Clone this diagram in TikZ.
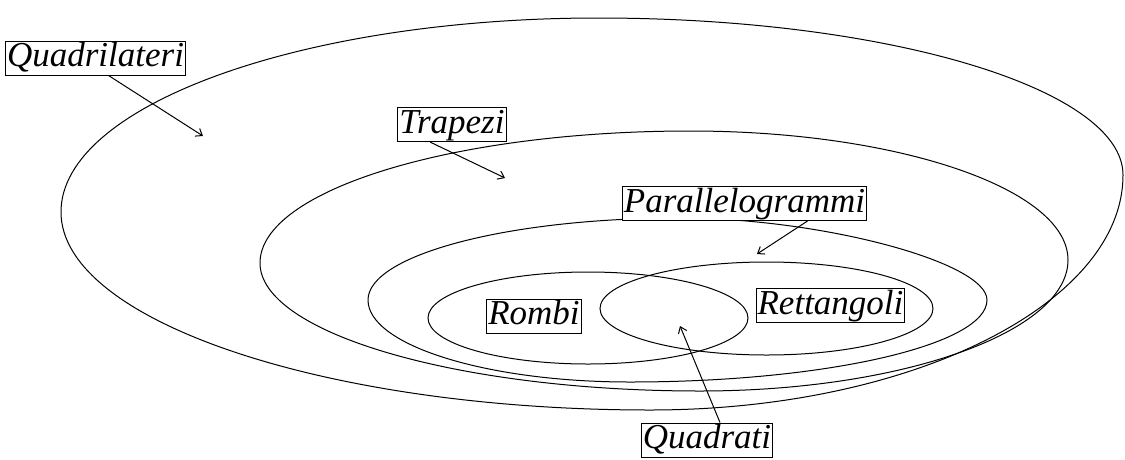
\documentclass[tikz,border=0pt]{standalone}
\usepackage{fontspec}
\setmainfont{Liberation Serif}
\usetikzlibrary{arrows.meta}
\tikzset{
  set line/.style={
    draw=black,
    line width=1pt
  },
  set label/.style={
    draw=black,
    fill=white,
    line width=1pt,
    inner sep=1.5pt,
    text height=24pt,
    text depth=7pt,
    font=\fontsize{35}{38}\selectfont\itshape
  },
  arrow/.style={
    -{Straight Barb[length=6pt,width=9pt]},
    line width=1pt
  }
}

\begin{document}
\begin{tikzpicture}[x=1pt, y=-1pt]
  \useasboundingbox (0,0) rectangle (1125,459);

  % Nested sets
  \draw[set line] (61,212) .. controls (61,105) and (303,18) .. (598,18)
    .. controls (888,18) and (1123,89) .. (1123,175)
    .. controls (1123,304) and (911,410) .. (650,410)
    .. controls (326,410) and (61,321) .. cycle;
  \draw[set line] (260,263) .. controls (260,190) and (454,131) .. (690,131)
    .. controls (898,131) and (1068,189) .. (1068,260)
    .. controls (1068,332) and (902,391) .. (700,391)
    .. controls (458,391) and (260,333) .. cycle;
  \draw[set line] (368,300) .. controls (368,255) and (508,218) .. (680,218)
    .. controls (820,218) and (987,262) .. (987,300)
    .. controls (987,345) and (826,382) .. (630,382)
    .. controls (486,382) and (368,345) .. cycle;
  \draw[set line] (588,318) ellipse [x radius=160, y radius=46];
  \draw[set line] (766.5,308.5) ellipse [x radius=166.5, y radius=46.5];

  % Labels
  \node[set label] (quad) at (95.5,58) {Quadrilateri};
  \node[set label] (trap) at (452,124.5) {Trapezi};
  \node[set label] (para) at (744.5,203.5) {Parallelogrammi};
  \node[set label] (romb) at (534,316) {Rombi};
  \node[set label] (rett) at (830.5,305.5) {Rettangoli};
  \node[set label] (qdrt) at (707,440) {Quadrati};

  % Arrow tips
  \coordinate (quadTip) at (203,136);
  \coordinate (trapTip) at (505,178);
  \coordinate (paraTip) at (757,254);
  \coordinate (qdrtTip) at (680,326);

  % Pointers
  \draw[arrow] ([xshift=13pt]quad.south) -- (quadTip);
  \draw[arrow] ([xshift=-22pt]trap.south) -- (trapTip);
  \draw[arrow] ([xshift=63pt]para.south) -- (paraTip);
  \draw[arrow] ([xshift=13pt]qdrt.north) -- (qdrtTip);

\end{tikzpicture}
\end{document}
